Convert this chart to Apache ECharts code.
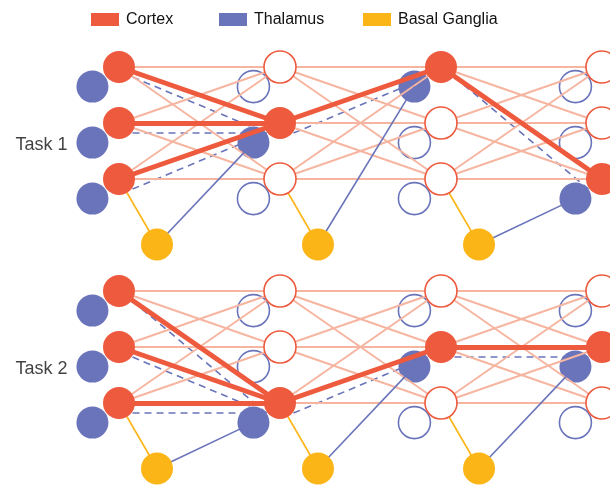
<!DOCTYPE html>
<html><head><meta charset="utf-8">
<script src="https://cdn.jsdelivr.net/npm/echarts@6/dist/echarts.min.js"></script>
<style>html,body{margin:0;padding:0;background:#fff}#c{width:610px;height:485px}</style>
</head><body><div id="c"></div>
<script>
// ---- data ----
const layers = ['L1', 'L2', 'L3', 'L4'];
const tasks = ['Task 1', 'Task 2'];
const cortexRows = [0, 1, 2];
const task1Active = [[0, 1, 2], [1], [0], [2]];   // active cortex/thalamus row per layer
const task2Active = [[0, 1, 2], [2], [1], [1]];
const taskRowBase = [0, 4];
const legendNames = ['Cortex', 'Thalamus', 'Basal Ganglia'];

// ---- style / layout constants ----
const RED = '#EE5A3D', BLUE = '#6A74BA', YELLOW = '#FBB516', LIGHT = '#F6B5A0';
const THAL_DX = -0.165, THAL_DY = 0.35, BG_DX = 0.236, BG_DY = 3.17;
const DASH_DX = 0.084, DASH_DY = 0.18, LABEL_X = -0.646, LABEL_DY = 1.39;
const FONT = 'Liberation Sans, Arial, sans-serif';

const actives = [task1Active, task2Active];
const cortexData = [], thalData = [], bgData = [];
const lightLines = [], thickLines = [], dashLines = [], blueLines = [], yellowLines = [];

tasks.forEach((t, ti) => {
  const base = taskRowBase[ti];
  const act = actives[ti];
  const cx = (k) => k;
  layers.forEach((l, k) => {
    cortexRows.forEach(r => {
      const on = act[k].includes(r);
      cortexData.push({
        value: [cx(k), base + r],
        itemStyle: on ? { color: RED } : { color: '#fff', borderColor: RED, borderWidth: 1.6 }
      });
      thalData.push({
        value: [cx(k) + THAL_DX, base + r + THAL_DY],
        itemStyle: on ? { color: BLUE } : { color: '#fff', borderColor: BLUE, borderWidth: 1.6 }
      });
    });
    if (k < layers.length - 1) {
      const bg = [cx(k) + BG_DX, base + BG_DY];
      bgData.push({ value: bg });
      yellowLines.push({ coords: [bg, [cx(k), base + cortexRows[2]]] });
      blueLines.push({ coords: [bg, [cx(k + 1) + THAL_DX, base + act[k + 1][0] + THAL_DY]] });
      cortexRows.forEach(i => cortexRows.forEach(j => {
        lightLines.push({ coords: [[cx(k), base + i], [cx(k + 1), base + j]] });
      }));
      act[k].forEach(i => act[k + 1].forEach(j => {
        thickLines.push({ coords: [[cx(k), base + i], [cx(k + 1), base + j]] });
        dashLines.push({ coords: [[cx(k) + DASH_DX, base + i + DASH_DY], [cx(k + 1) - DASH_DX, base + j + DASH_DY]] });
      }));
    }
  });
});

const lineSeries = (name, data, style, z) => ({
  name, type: 'lines', coordinateSystem: 'cartesian2d', z, silent: true,
  polyline: false, data,
  lineStyle: Object.assign({ opacity: 1, curveness: 0 }, style)
});

const legendPos = [91, 219, 363];
const chart = echarts.init(document.getElementById('c'));
chart.setOption({
  animation: false,
  backgroundColor: '#fff',
  legend: legendNames.map((n, i) => ({
    data: [n], left: legendPos[i], top: 11.5, padding: 0,
    icon: 'rect', itemWidth: 28, itemHeight: 13, selectedMode: false,
    textStyle: { fontSize: 16, color: '#111', fontFamily: FONT, padding: [0, 0, 0, 2] }
  })),
  grid: { left: 0, right: 0, top: 0, bottom: 0 },
  xAxis: { type: 'value', min: -0.7391, max: 3.0497, show: false },
  yAxis: { type: 'value', min: -1.1964, max: 7.4643, inverse: true, show: false },
  series: [
    lineSeries('dash', dashLines, { color: BLUE, width: 1.6, type: [7, 5] }, 1),
    {
      name: 'Thalamus', type: 'scatter', z: 2, silent: true, symbolSize: 32,
      itemStyle: { color: BLUE, opacity: 1 }, data: thalData
    },
    lineSeries('light', lightLines, { color: LIGHT, width: 2 }, 3),
    lineSeries('yellow', yellowLines, { color: YELLOW, width: 1.6 }, 3),
    lineSeries('blue', blueLines, { color: BLUE, width: 1.6 }, 3),
    lineSeries('thick', thickLines, { color: RED, width: 5 }, 3),
    {
      name: 'Cortex', type: 'scatter', z: 4, silent: true, symbolSize: 32,
      itemStyle: { color: RED, opacity: 1 }, data: cortexData
    },
    {
      name: 'Basal Ganglia', type: 'scatter', z: 4, silent: true, symbolSize: 32,
      itemStyle: { color: YELLOW, opacity: 1 }, data: bgData
    },
    {
      name: 'labels', type: 'scatter', z: 5, silent: true, symbolSize: 1,
      itemStyle: { color: 'rgba(0,0,0,0)' },
      label: {
        show: true, position: 'right', distance: 0, formatter: p => p.name,
        fontSize: 18, color: '#111', fontFamily: FONT
      },
      data: tasks.map((t, i) => ({ name: t, value: [LABEL_X, taskRowBase[i] + LABEL_DY] }))
    }
  ]
});
</script></body></html>
